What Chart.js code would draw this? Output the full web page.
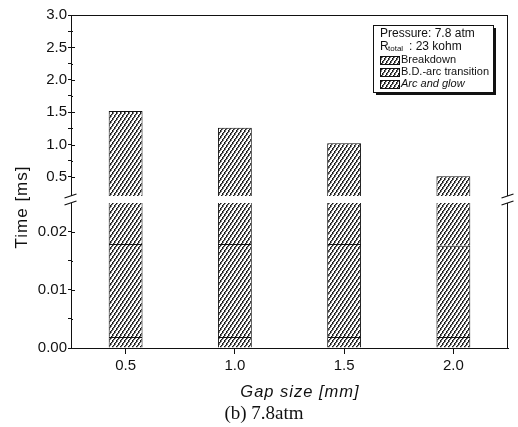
<!DOCTYPE html>
<html>
<head>
<meta charset="utf-8">
<script src="https://cdn.jsdelivr.net/npm/chart.js@4.4.0/dist/chart.umd.min.js"></script>
<style>
  html, body { margin: 0; padding: 0; background: #fff; }
</style>
</head>
<body>
<canvas id="c" width="518" height="427"></canvas>
<script>
// gap sizes (mm) on the x axis
const gapSizes = ['0.5', '1.0', '1.5', '2.0'];
// cumulative times in ms
const breakdownEnd = [0.0019, 0.0019, 0.0019, 0.0019];
const transitionEnd = [0.0179, 0.0179, 0.0179, 0.0176];
const totalTime = [1.52, 1.26, 1.02, 0.51];

const seriesNames = ['Breakdown', 'B.D.-arc transition', 'Arc and glow'];

// y ticks of the two panels
const upperMajor = [0.5, 1.0, 1.5, 2.0, 2.5, 3.0];
const upperMinor = [0.75, 1.25, 1.75, 2.25, 2.75];
const lowerMajor = [0, 0.01, 0.02];
const lowerMinor = [0.005, 0.015];

// broken axis: lower panel 0..LOW_MAX, upper panel UP_MIN..UP_MAX
const LOW_MAX = 0.0255;
const UP_MIN = 0.145;
const UP_MAX = 3.0;

const SANS = "'Liberation Sans', Arial, sans-serif";
Chart.defaults.color = '#111';

// diagonal hatch tile, rising to the right
function hatch(w, h) {
    const c = document.createElement('canvas');
    c.width = w; c.height = h;
    const g = c.getContext('2d');
    g.fillStyle = '#fff';
    g.fillRect(0, 0, w, h);
    for (let y = 0; y < h; y++) {
        const x = Math.floor((h - 1 - y) * w / h);
        g.fillStyle = '#1a1a1a';
        g.fillRect(x, y, 1, 1);
        g.fillStyle = '#7a7a7a';
        g.fillRect((x + 1) % w, y, 1, 1);
    }
    return g.createPattern(c, 'repeat');
}
const hatchFill = hatch(4, 6);

function mergeTicks(major, minor) {
    return major.map(v => ({ value: v }))
        .concat(minor.map(v => ({ value: v, minor: true })))
        .sort((a, b) => a.value - b.value);
}

const barStyle = {
    backgroundColor: hatchFill,
    borderColor: '#111',
    borderWidth: 1,
    borderSkipped: 'bottom',
    grouped: false,
    barPercentage: 0.31,
    categoryPercentage: 1
};

const yCommon = {
    position: 'left',
    stack: 'time',
    grid: { drawOnChartArea: false, drawTicks: true, tickLength: 3, tickColor: '#111' },
    border: { display: true, color: '#111', width: 1 },
    afterFit: s => { s.width = 71; }
};

const brokenAxis = {
    id: 'brokenAxis',
    afterDraw(chart) {
        const { ctx, chartArea: a, scales } = chart;
        ctx.save();
        ctx.strokeStyle = '#111';
        ctx.lineWidth = 1;

        // frame: top and right
        ctx.beginPath();
        ctx.moveTo(a.left, a.top + 0.5); ctx.lineTo(a.right, a.top + 0.5);
        ctx.moveTo(a.right - 0.5, a.top); ctx.lineTo(a.right - 0.5, a.bottom);
        ctx.stroke();

        // inward y tick marks
        ctx.beginPath();
        [scales.yUp, scales.yLow].forEach(s => {
            s.ticks.forEach(t => {
                const y = Math.round(s.getPixelForValue(t.value)) + 0.5;
                ctx.moveTo(a.left, y);
                ctx.lineTo(a.left + (t.minor ? 2 : 4), y);
            });
        });
        ctx.stroke();

        // the gap between the panels
        const yb = scales.yUp.bottom;
        ctx.fillStyle = '#fff';
        ctx.fillRect(a.left - 3, yb - 4, a.right - a.left + 6, 7);
        ctx.lineWidth = 1.3;
        ctx.beginPath();
        [a.left - 0.5, a.right - 0.5].forEach(x => {
            [yb - 4, yb + 3].forEach(y0 => {
                ctx.moveTo(x - 6, y0 + 2);
                ctx.lineTo(x + 6, y0 - 2);
            });
        });
        ctx.stroke();

        // legend box with shadow
        const bx = 373, by = 25, bw = 120, bh = 67;
        ctx.fillStyle = '#111';
        ctx.fillRect(bx + 3, by + 3, bw, bh);
        ctx.fillStyle = '#fff';
        ctx.fillRect(bx, by, bw, bh);
        ctx.lineWidth = 1;
        ctx.strokeRect(bx + 0.5, by + 0.5, bw, bh);

        ctx.fillStyle = '#111';
        ctx.textBaseline = 'middle';
        ctx.textAlign = 'left';
        ctx.font = '12px ' + SANS;
        ctx.fillText('Pressure: 7.8 atm', 380, 34);
        ctx.fillText('R', 380, 47);
        ctx.font = '8px ' + SANS;
        ctx.fillText('total', 388, 49);
        ctx.font = '12px ' + SANS;
        ctx.fillText(': 23 kohm', 409, 47);

        const rows = [60, 72, 84];
        chart.data.datasets.slice(0, 3).forEach((ds, i) => {
            const y = rows[i];
            ctx.fillStyle = ds.backgroundColor;
            ctx.fillRect(380, y - 4, 19, 8);
            ctx.strokeRect(380.5, y - 3.5, 19, 8);
            ctx.fillStyle = '#111';
            ctx.font = (i === 2 ? 'italic ' : '') + '11px ' + SANS;
            ctx.fillText(ds.label, 401, y);
        });

        // axis titles and caption
        ctx.letterSpacing = '1px';
        ctx.textAlign = 'center';
        ctx.font = '17px ' + SANS;
        ctx.save();
        ctx.translate(22, 207);
        ctx.rotate(-Math.PI / 2);
        ctx.fillText('Time [ms]', 0, 0);
        ctx.restore();

        ctx.font = 'italic 16.5px ' + SANS;
        ctx.fillText('Gap size [mm]', 300, 392);

        ctx.letterSpacing = '0px';
        ctx.font = "19px 'Liberation Serif', 'Times New Roman', serif";
        ctx.fillText('(b) 7.8atm', 264, 414);
        ctx.restore();
    }
};

new Chart(document.getElementById('c'), {
    type: 'bar',
    data: {
        labels: gapSizes,
        datasets: [
            { ...barStyle, label: seriesNames[0], yAxisID: 'yLow',
              data: breakdownEnd.map(v => [0, v]) },
            { ...barStyle, label: seriesNames[1], yAxisID: 'yLow',
              data: transitionEnd.map((v, i) => [breakdownEnd[i], v]) },
            { ...barStyle, label: seriesNames[2], yAxisID: 'yLow',
              data: totalTime.map((v, i) => [transitionEnd[i], Math.min(v, LOW_MAX)]) },
            { ...barStyle, label: seriesNames[2], yAxisID: 'yUp',
              data: totalTime.map(v => [UP_MIN, v]) }
        ]
    },
    options: {
        responsive: false,
        animation: false,
        devicePixelRatio: 1,
        layout: { padding: { top: 15, right: 10, left: 0, bottom: 0 } },
        plugins: { legend: { display: false }, tooltip: { enabled: false } },
        scales: {
            x: {
                offset: true,
                grid: { offset: false, drawOnChartArea: false, drawTicks: true, tickLength: 6, tickColor: '#111' },
                border: { display: true, color: '#111', width: 1 },
                ticks: { font: { family: SANS, size: 15 }, padding: 3, maxRotation: 0 },
                afterFit: s => { s.height = 79; }
            },
            yLow: {
                ...yCommon,
                stackWeight: 148,
                min: 0, max: LOW_MAX,
                afterBuildTicks: s => { s.ticks = mergeTicks(lowerMajor, lowerMinor); },
                ticks: {
                    autoSkip: false, padding: 1,
                    font: { family: SANS, size: 15 },
                    callback: (v, i, t) => t[i].minor ? '' : v.toFixed(2)
                }
            },
            yUp: {
                ...yCommon,
                stackWeight: 185,
                min: UP_MIN, max: UP_MAX,
                afterBuildTicks: s => { s.ticks = mergeTicks(upperMajor, upperMinor); },
                ticks: {
                    autoSkip: false, padding: 1,
                    font: { family: SANS, size: 15 },
                    callback: (v, i, t) => t[i].minor ? '' : v.toFixed(1)
                }
            }
        }
    },
    plugins: [brokenAxis]
});
</script>
</body>
</html>
